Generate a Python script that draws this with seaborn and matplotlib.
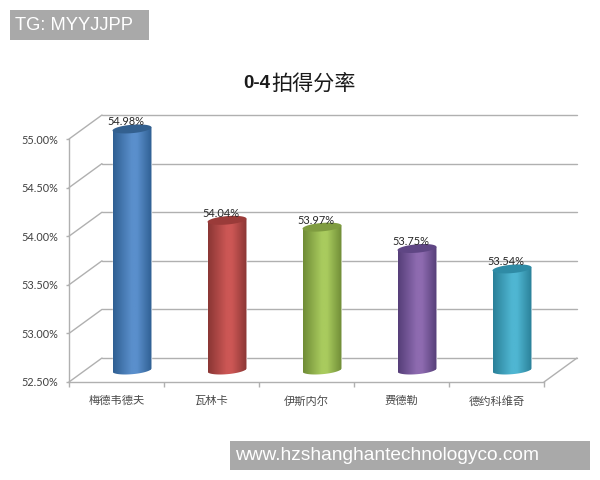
import numpy as np
import pandas as pd
import matplotlib
matplotlib.use("Agg")
import matplotlib.pyplot as plt
import seaborn as sns
from matplotlib.colors import LinearSegmentedColormap
from matplotlib.patches import PathPatch, Polygon, Rectangle
from matplotlib.path import Path

# Values
players = ["梅德韦德夫", "瓦林卡", "伊斯内尔", "费德勒", "德约科维奇"]
rates = [54.98, 54.04, 53.97, 53.75, 53.54]
y_ticks = [52.5, 53.0, 53.5, 54.0, 54.5, 55.0]

# Cylinder colours
edge_colors = ["#2f5f92", "#8a3634", "#6f8c36", "#553e78", "#2a8098"]
mid_colors = ["#5a8fcc", "#cc5755", "#a9cb5e", "#8e6bb0", "#4fb6d2"]
cap_colors = ["#33608f", "#9a3b39", "#7f9c40", "#5f4684", "#2f8ba5"]

GRID = "#b0b0b0"
CJK = ["Noto Sans CJK SC", "DejaVu Sans"]

sns.set_theme(style="white")
plt.rcParams["font.family"] = CJK

fig = plt.figure(figsize=(6, 4.8), dpi=100)
ax = fig.add_axes([69 / 600, 98 / 480, 475 / 600, 243 / 480])

df = pd.DataFrame({"player": players, "rate": rates})
sns.barplot(data=df, x="player", y="rate", hue="player", palette=mid_colors,
            width=0.41, legend=False, ax=ax)

ax.set_xlim(-0.5, 4.5)
ax.set_ylim(52.5, 55.0)

# Depth of the fake 3D box, in data units
DX, DY = 33 / 95, 24 / 97.2
# Where the bars stand on the floor, and the ellipse half height
BAR_DX, BAR_DY = 15.5 / 95, 12 / 97.2
CAP = 4.2 / 97.2
TILT = 1.6 / 97.2

# back wall and left wall
for t in y_ticks:
    ax.plot([-0.5 + DX, 4.5 + DX], [t + DY, t + DY], color=GRID, lw=1.0,
            clip_on=False, zorder=1)
    ax.plot([-0.5, -0.5 + DX], [t, t + DY], color=GRID, lw=1.0, clip_on=False, zorder=1)
ax.plot([4.5, 4.5 + DX], [52.5, 52.5 + DY], color=GRID, lw=1.0, clip_on=False, zorder=1)

# cylinders, built on the rectangles seaborn drew
theta = np.linspace(0, np.pi, 40)
for i, (bar, rate) in enumerate(zip(ax.patches, rates)):
    left = bar.get_x() + BAR_DX
    w = bar.get_width()
    base = 52.5 + BAR_DY
    top = rate + BAR_DY
    cx = left + w / 2
    bar.set_x(left)
    bar.set_y(base)
    bar.set_height(rate - 52.5)
    bar.set_clip_on(False)
    bar.set_zorder(2)

    ex = np.cos(theta)
    low_x = cx + ex[::-1] * w / 2
    low_y = base - np.sin(theta[::-1]) * CAP + ex[::-1] * TILT
    top_y = top + ex * TILT
    body = np.vstack([
        np.column_stack([low_x, low_y]),
        np.column_stack([cx + ex * w / 2, top_y]),
    ])
    clip = PathPatch(Path(np.vstack([body, body[:1]])), transform=ax.transData)

    cmap = LinearSegmentedColormap.from_list(
        "cyl", [(0, edge_colors[i]), (0.48, mid_colors[i]), (0.62, mid_colors[i]), (1, edge_colors[i])])
    grad = np.linspace(0, 1, 128).reshape(1, -1)
    im = ax.imshow(grad, extent=[left, left + w, base - 2 * CAP, top + 2 * CAP],
                   aspect="auto", cmap=cmap, zorder=3, interpolation="bilinear")
    im.set_clip_path(clip)
    im.set_clip_box(fig.bbox)

    phi = np.linspace(0, 2 * np.pi, 80)
    cap_x = cx + np.cos(phi) * w / 2
    cap_y = top + np.sin(phi) * CAP + np.cos(phi) * TILT
    ax.add_patch(Polygon(np.column_stack([cap_x, cap_y]), closed=True,
                         facecolor=cap_colors[i], edgecolor="none",
                         clip_on=False, zorder=4))

    ax.text(cx - 6 / 95, top + 7 / 97.2, f"{rate:.2f}%", ha="center", va="center",
            fontsize=7.9, color="#262626", family="Lato", clip_on=False, zorder=5)

ax.set_xlim(-0.5, 4.5)
ax.set_ylim(52.5, 55.0)

# axes
for side in ["top", "right"]:
    ax.spines[side].set_visible(False)
for side in ["left", "bottom"]:
    ax.spines[side].set_color(GRID)
    ax.spines[side].set_linewidth(1.0)
    ax.spines[side].set_zorder(1)

ax.set_xlabel("")
ax.set_ylabel("")
ax.set_yticks(y_ticks)
ax.set_yticklabels([f"{t:.2f}%" for t in y_ticks], family="Lato", fontsize=7.8, color="#404040")
ax.tick_params(axis="y", left=True, length=2.4, width=1.0, color=GRID, pad=5.5)
ax.set_xticks(range(len(players)))
ax.set_xticklabels(players, fontsize=8.1, color="#4a4a4a")
ax.set_xticks(np.arange(-0.5, 5), minor=True)
ax.tick_params(axis="x", which="major", bottom=False, length=0, pad=10)
ax.tick_params(axis="x", which="minor", bottom=True, length=3.6, width=1.0, color=GRID)

# title, latin part is bold
fig.text(270.5 / 600, 1 - 84 / 480, "0-4", ha="right", va="center", fontsize=13.5,
         fontweight="bold", color="#1a1a1a", family="Liberation Sans")
fig.text(271 / 600, 1 - 84 / 480, "拍得分率", ha="left", va="center", fontsize=15.2,
         color="#1a1a1a")

# watermark boxes
fig.add_artist(Rectangle((10 / 600, 1 - 40 / 480), 139 / 600, 30 / 480,
                         transform=fig.transFigure, facecolor="#a9a9a9", edgecolor="none"))
fig.text(15 / 600, 1 - 26 / 480, "TG: MYYJJPP", ha="left", va="center", fontsize=13.2,
         color="white", family="Liberation Sans")
fig.add_artist(Rectangle((230 / 600, 1 - 470 / 480), 360 / 600, 29 / 480,
                         transform=fig.transFigure, facecolor="#a9a9a9", edgecolor="none"))
fig.text(235 / 600, 1 - 455 / 480, "www.hzshanghantechnologyco.com", ha="left", va="center",
         fontsize=13.8, color="white", family="Liberation Sans")

fig.savefig("out.png", dpi=100)
